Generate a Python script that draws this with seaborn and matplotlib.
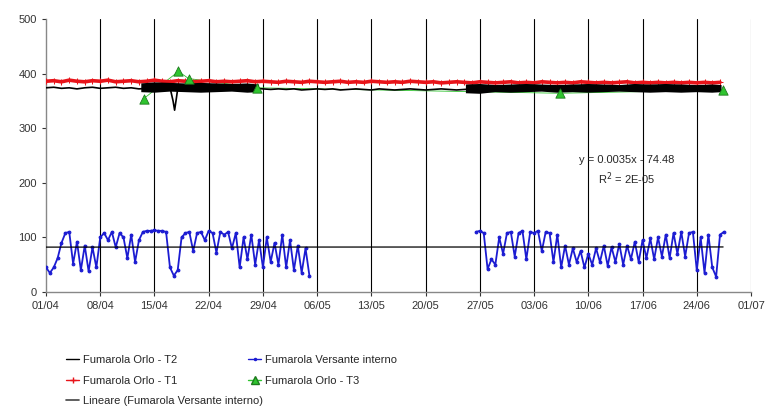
import numpy as np
import pandas as pd
import matplotlib
matplotlib.use("Agg")
import matplotlib.pyplot as plt
from matplotlib.lines import Line2D
import seaborn as sns

# tick labels (day offsets from 01/04, one per week)
tick_days = [0, 7, 14, 21, 28, 35, 42, 49, 56, 63, 70, 77, 84, 91]
tick_labels = ["01/04", "08/04", "15/04", "22/04", "29/04", "06/05", "13/05",
               "20/05", "27/05", "03/06", "10/06", "17/06", "24/06", "01/07"]

# Fumarola Versante interno - two acquisition periods, 12 h sampling
blue1_start = 0.0
blue1_vals = [45, 35, 45, 62, 90, 108, 110, 52, 92, 40, 85, 38, 82, 45,
              100, 108, 95, 110, 82, 108, 100, 62, 105, 55, 95, 110, 112, 112,
              113, 112, 112, 110, 45, 30, 40, 100, 108, 110, 75, 108, 110, 95,
              112, 108, 72, 110, 105, 110, 80, 108, 45, 100, 60, 105, 50, 95,
              45, 100, 55, 90, 50, 105, 45, 95, 40, 85, 35, 80, 30]
blue2_start = 55.5
blue2_vals = [110, 112, 108, 42, 60, 50, 100, 70, 108, 110, 65, 108, 112, 60,
              110, 108, 112, 75, 110, 108, 55, 105, 45, 85, 50, 80, 55, 75,
              45, 70, 50, 80, 55, 85, 48, 82, 55, 88, 50, 85, 60, 92, 55, 95,
              62, 98, 60, 100, 65, 105, 62, 108, 70, 110, 65, 108, 110, 40,
              100, 35, 105, 45, 28, 105, 110]

# Fumarola Orlo - T1 (daily)
t1_vals = [386, 387, 385, 388, 386, 385, 387, 386, 388, 385, 386, 387, 385, 386,
           388, 386, 385, 387, 386, 385, 386, 387, 385, 386, 385, 386, 387, 385,
           386, 385, 384, 386, 385, 384, 386, 385, 384, 385, 386, 384, 385, 384,
           386, 385, 384, 385, 384, 386, 385, 384, 385, 383, 384, 385, 384, 383,
           385, 384, 383, 384, 385, 383, 384, 383, 385, 384, 383, 384, 383, 385,
           384, 383, 384, 383, 384, 385, 383, 384, 383, 384, 383, 384, 383, 384,
           383, 384, 383, 384]

# Fumarola Orlo - T2
t2_days = [0, 1, 2, 3, 4, 5, 6, 7, 8, 9, 10, 11, 12, 13, 14, 15, 16, 16.4,
           16.6, 16.8, 17, 18, 19, 20, 21, 22, 23, 24, 25, 26, 27, 28, 29, 30,
           31, 32, 33, 34, 35, 36, 37, 38, 39, 40, 41, 42, 43, 44, 45, 46, 47,
           48, 49, 50, 51, 52, 53, 54, 55, 56, 57, 58, 59, 60, 61, 62, 63, 64,
           65, 66, 67, 68, 69, 70, 71, 72, 73, 74, 75, 76, 77, 78, 79, 80, 81,
           82, 83, 84, 85, 86, 87]
t2_vals = [374, 375, 373, 374, 372, 374, 375, 373, 374, 375, 373, 374, 372, 373,
           374, 372, 375, 350, 333, 352, 372, 374, 373, 372, 374, 373, 372, 373,
           374, 372, 373, 372, 371, 372, 371, 372, 370, 371, 372, 371, 372, 370,
           371, 372, 371, 370, 372, 371, 370, 371, 372, 371, 370, 371, 372, 371,
           370, 371, 372, 371, 372, 371, 372, 373, 371, 372, 371, 372, 373, 371,
           372, 371, 372, 373, 372, 371, 372, 371, 372, 373, 371, 372, 371, 372,
           373, 372, 371, 372, 371, 372, 371]
# T2 dense acquisition periods (min / max envelope)
t2_band_days = [12.3, 14, 16, 18, 20, 22, 24, 26, 27.5, np.nan,
                54.2, 56, 58, 60, 62, 64, 66, 68, 70, 72, 74, 76, 78, 80, 82, 84, 86, 87.2]
t2_band_lo = [366, 365, 367, 366, 365, 366, 367, 365, 366, np.nan,
              364, 363, 366, 365, 366, 367, 365, 366, 365, 366, 367, 366, 365, 366, 365, 366, 365, 366]
t2_band_hi = [382, 384, 383, 382, 383, 382, 381, 382, 380, np.nan,
              380, 381, 379, 380, 381, 380, 379, 380, 381, 380, 379, 381, 380, 381, 380, 379, 380, 379]

# Fumarola Orlo - T3
t3_days = [12.6, 17.1, 18.4, 27.2, 66.3, 87.4]
t3_vals = [354, 404, 391, 374, 364, 370]

# Lineare (Fumarola Versante interno)
trend_days = [0, 87.4]
trend_vals = [82.2, 82.5]

blue_df = pd.concat([
    pd.DataFrame({"day": blue1_start + 0.5 * np.arange(len(blue1_vals)), "T": blue1_vals, "seg": 1}),
    pd.DataFrame({"day": blue2_start + 0.5 * np.arange(len(blue2_vals)), "T": blue2_vals, "seg": 2}),
])
t1_df = pd.DataFrame({"day": np.arange(len(t1_vals)), "T": t1_vals})
t2_df = pd.DataFrame({"day": t2_days, "T": t2_vals})
t3_df = pd.DataFrame({"day": t3_days, "T": t3_vals})
trend_df = pd.DataFrame({"day": trend_days, "T": trend_vals})

sns.set_style("white")
plt.rcParams["font.family"] = ["Liberation Sans", "DejaVu Sans"]

fig = plt.figure(figsize=(7.68, 4.11), dpi=100)
ax = fig.add_axes([46 / 768, 1 - 292 / 411, 705 / 768, 273 / 411])

c_red = "#e8141a"
c_blue = "#1c1cd2"
c_green = "#2fc42f"

# T1 red
sns.lineplot(data=t1_df, x="day", y="T", ax=ax, color=c_red, lw=2.6,
             marker="+", markersize=4, markeredgecolor=c_red, zorder=3)
# T3 green connecting line (mostly hidden behind T2)
sns.lineplot(data=t3_df, x="day", y="T", ax=ax, color=c_green, lw=0.6, zorder=2.5)
# T2 black
ax.fill_between(t2_band_days, t2_band_lo, t2_band_hi, color="black", lw=0, zorder=4)
sns.lineplot(data=t2_df, x="day", y="T", ax=ax, color="black", lw=1.2, zorder=4)
# T3 markers
sns.scatterplot(data=t3_df, x="day", y="T", ax=ax, color=c_green, marker="^", s=45,
                edgecolor="#1d7a1d", linewidth=0.6, zorder=5)
# Versante interno blue
for seg, d in blue_df.groupby("seg"):
    sns.lineplot(data=d, x="day", y="T", ax=ax, color=c_blue, lw=1.3,
                 marker=".", markersize=4, markeredgecolor=c_blue, zorder=3)
# trend line
sns.lineplot(data=trend_df, x="day", y="T", ax=ax, color="black", lw=0.9, zorder=4)

ax.set_xlim(0, 91)
ax.set_ylim(0, 500)
ax.set_xticks(tick_days)
ax.set_xticklabels(tick_labels)
ax.set_yticks([0, 100, 200, 300, 400, 500])
ax.set_xlabel("")
ax.set_ylabel("")
ax.tick_params(labelsize=8, colors="#333333", length=3, width=0.8, direction="out",
               bottom=True, left=True)
for d in tick_days[1:]:
    ax.axvline(d, color="black" if d < 91 else "#777777", lw=0.8, zorder=1)
for s in ["top", "right"]:
    ax.spines[s].set_visible(False)
for s in ["left", "bottom"]:
    ax.spines[s].set_color("#888888")
    ax.spines[s].set_linewidth(1.0)

ax.text(75, 241, "y = 0.0035x - 74.48", ha="center", va="center", fontsize=8, zorder=6)
ax.text(75, 208, "R$^2$ = 2E-05", ha="center", va="center", fontsize=8, zorder=6)

h_t2 = Line2D([], [], color="black", lw=1.0)
h_t1 = Line2D([], [], color=c_red, lw=1.0, marker="+", markersize=4)
h_lin = Line2D([], [], color="#444444", lw=1.2)
h_blue = Line2D([], [], color=c_blue, lw=1.0, marker=".", markersize=3)
h_t3 = Line2D([], [], color=c_green, lw=1.0, marker="^", markersize=6,
              markerfacecolor=c_green, markeredgecolor="#1d7a1d")
leg_kw = dict(loc="upper left", frameon=False, fontsize=8, handlelength=1.2,
              handletextpad=0.3, labelspacing=0.95)
leg1 = fig.legend([h_t2, h_t1, h_lin],
                  ["Fumarola Orlo - T2", "Fumarola Orlo - T1", "Lineare (Fumarola Versante interno)"],
                  bbox_to_anchor=(56 / 768, 1 - 345 / 411), **leg_kw)
fig.legend([h_blue, h_t3], ["Fumarola Versante interno", "Fumarola Orlo - T3"],
           bbox_to_anchor=(238 / 768, 1 - 345 / 411), **leg_kw)

fig.savefig("out.png", dpi=100)
